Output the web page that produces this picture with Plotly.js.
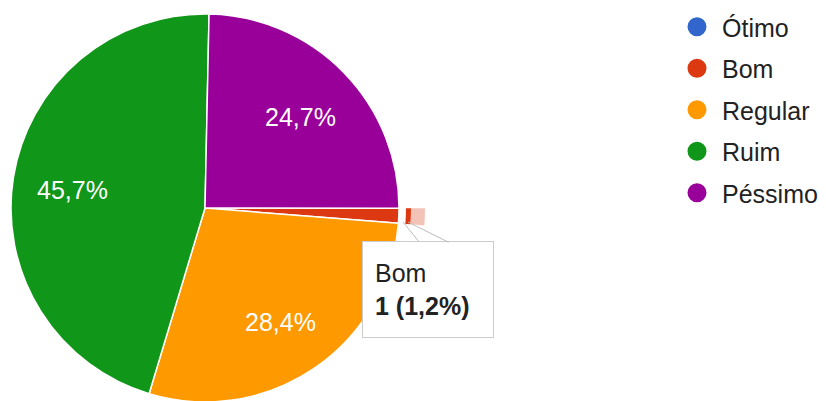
<!DOCTYPE html>
<html><head><meta charset="utf-8">
<script src="https://cdn.plot.ly/plotly-3.0.1.min.js"></script>
<style>
html,body{margin:0;padding:0;overflow:hidden;background:#fff;width:826px;height:401px;position:relative}
#chart{position:absolute;left:-30px;top:-30px;width:886px;height:461px}
</style>
</head><body><div id="chart"></div>
<script>
// ---- data ----
const categories = ['Ótimo', 'Bom', 'Regular', 'Ruim', 'Péssimo'];
const counts = [0, 1, 23, 37, 20];
const colors = ['#3366cc', '#dc3912', '#ff9900', '#109618', '#990099'];
const highlighted = 'Bom';
const tooltipCount = '1';
const tooltipPercent = '1,2%';

// ---- layout helpers ----
const OFF = 30, W = 886, H = 461;
const fx = x => (x + OFF) / W;
const fy = y => 1 - (y + OFF) / H;
function domainFor(cx, cy, r) {
  return { x: [fx(cx - r), fx(cx + r)], y: [fy(cy + r), fy(cy - r)] };
}
const CX = 205, CY = 208, R = 194;
const total = counts.reduce((a, b) => a + b, 0);
const rotation = counts[4] / total * 360 + 1.2;
const FONT = 'Arial, "Liberation Sans", sans-serif';

const hiIdx = categories.indexOf(highlighted);
function ringColors(c) { return categories.map((k, i) => i === hiIdx ? c : 'rgba(0,0,0,0)'); }
function ring(rOuter, rInner, c) {
  return {
    type: 'pie', labels: categories, values: counts, sort: false, direction: 'clockwise',
    rotation: rotation, hole: rInner / rOuter, domain: domainFor(CX, CY, rOuter),
    marker: { colors: ringColors(c), line: { width: 0 } },
    textinfo: 'none', hoverinfo: 'skip', showlegend: false
  };
}

const traces = [
  ring(220, 206, 'rgba(220,57,18,0.3)'),
  ring(206, 201, '#dc3912'),
  {
    type: 'pie', labels: categories, values: counts, sort: false, direction: 'clockwise',
    rotation: rotation, domain: domainFor(CX, CY, R),
    marker: { colors: colors, line: { color: '#ffffff', width: 1.5 } },
    textinfo: 'none', hoverinfo: 'skip', showlegend: false
  }
];
categories.forEach((c, i) => {
  traces.push({
    type: 'scatter', mode: 'markers', x: [null], y: [null], name: c,
    legendgroup: c, showlegend: true,
    marker: { color: colors[i], size: 16, line: { color: colors[i], width: 3 } },
    hoverinfo: 'skip'
  });
});

// percentage labels placed at the middle angle of each slice
const labelAnns = [];
let acc = 0;
counts.forEach((v, i) => {
  const a0 = rotation + acc / total * 360;
  acc += v;
  const share = v / total;
  if (share < 0.05) return;
  const mid = (a0 + share * 180) * Math.PI / 180;
  const r = R * 0.69;
  const px = CX + r * Math.sin(mid), py = CY - r * Math.cos(mid);
  labelAnns.push({
    xref: 'paper', yref: 'paper', x: fx(px), y: fy(py), xanchor: 'center', yanchor: 'middle',
    yshift: -3,
    text: (share * 100).toFixed(1).replace('.', ',') + '%', showarrow: false,
    font: { family: FONT, size: 25, color: '#ffffff' }
  });
});

const layout = {
  width: W, height: H,
  margin: { l: 0, r: 0, t: 0, b: 0 },
  paper_bgcolor: '#ffffff', plot_bgcolor: 'rgba(0,0,0,0)',
  separators: ',.',
  hovermode: false,
  xaxis: { visible: false }, yaxis: { visible: false },
  showlegend: true,
  legend: {
    x: fx(672), y: fy(4), xanchor: 'left', yanchor: 'top',
    traceorder: 'grouped', tracegroupgap: 6, itemwidth: 40,
    font: { family: FONT, size: 25, color: '#222222' },
    bgcolor: 'rgba(0,0,0,0)', borderwidth: 0
  },
  annotations: labelAnns.concat([
    { xref: 'paper', yref: 'paper', x: fx(428), y: fy(289.5), xanchor: 'center', yanchor: 'middle',
      text: highlighted + '<br><b>' + tooltipCount + ' (' + tooltipPercent + ')</b>',
      showarrow: false, align: 'left', valign: 'middle', width: 106, height: 71,
      bgcolor: '#ffffff', bordercolor: '#cccccc', borderwidth: 1, borderpad: 12,
      font: { family: FONT, size: 25, color: '#222222' } },
    { xref: 'paper', yref: 'paper', x: fx(403), y: fy(222), axref: 'pixel', ayref: 'pixel',
      ax: 17, ay: 21, text: '', showarrow: true, arrowhead: 0, arrowwidth: 1, arrowcolor: '#bbbbbb' },
    { xref: 'paper', yref: 'paper', x: fx(408), y: fy(222), axref: 'pixel', ayref: 'pixel',
      ax: 42, ay: 21, text: '', showarrow: true, arrowhead: 0, arrowwidth: 1, arrowcolor: '#bbbbbb' }
  ])
};
Plotly.newPlot('chart', traces, layout, { displayModeBar: false, staticPlot: true });
</script>
</body></html>
